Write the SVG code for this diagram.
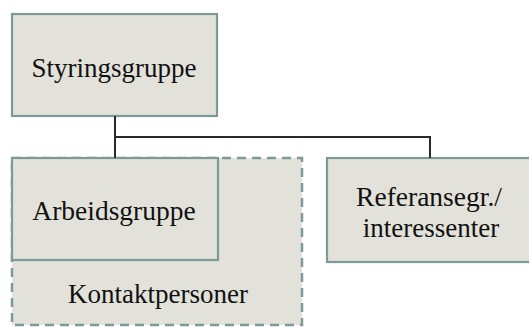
<svg xmlns="http://www.w3.org/2000/svg" width="529" height="327" viewBox="0 0 529 327">
<style>
.box{fill:#e2e2da;stroke:#7d9a99;stroke-width:2.2}
.dash{fill:#e2e2da;stroke:#7d9a99;stroke-width:2.5;stroke-dasharray:9 6}
.t{font-family:"Liberation Serif","Times New Roman",serif;font-size:27px;fill:#111111;text-anchor:middle}
.c{fill:none;stroke:#2a2a2a;stroke-width:2}
</style>
<rect width="529" height="327" fill="#ffffff"/>
<g id="kontaktpersoner">
<rect class="dash" x="12" y="158" width="290" height="167"/>
<text class="t" x="158" y="303">Kontaktpersoner</text>
</g>
<g id="styringsgruppe">
<rect class="box" x="12" y="14" width="205" height="102"/>
<text class="t" x="114" y="77">Styringsgruppe</text>
</g>
<g id="arbeidsgruppe">
<rect class="box" x="12" y="158" width="206" height="102"/>
<text class="t" x="114" y="220" style="font-size:27.5px">Arbeidsgruppe</text>
</g>
<g id="referansegr">
<rect class="box" x="327" y="158" width="215" height="104"/>
<text class="t" x="429" y="206" style="font-size:27.5px">Referansegr./</text>
<text class="t" x="431" y="237">interessenter</text>
</g>
<g id="connectors">
<path class="c" d="M115 116V158M115 137H430V158"/>
</g>
</svg>
